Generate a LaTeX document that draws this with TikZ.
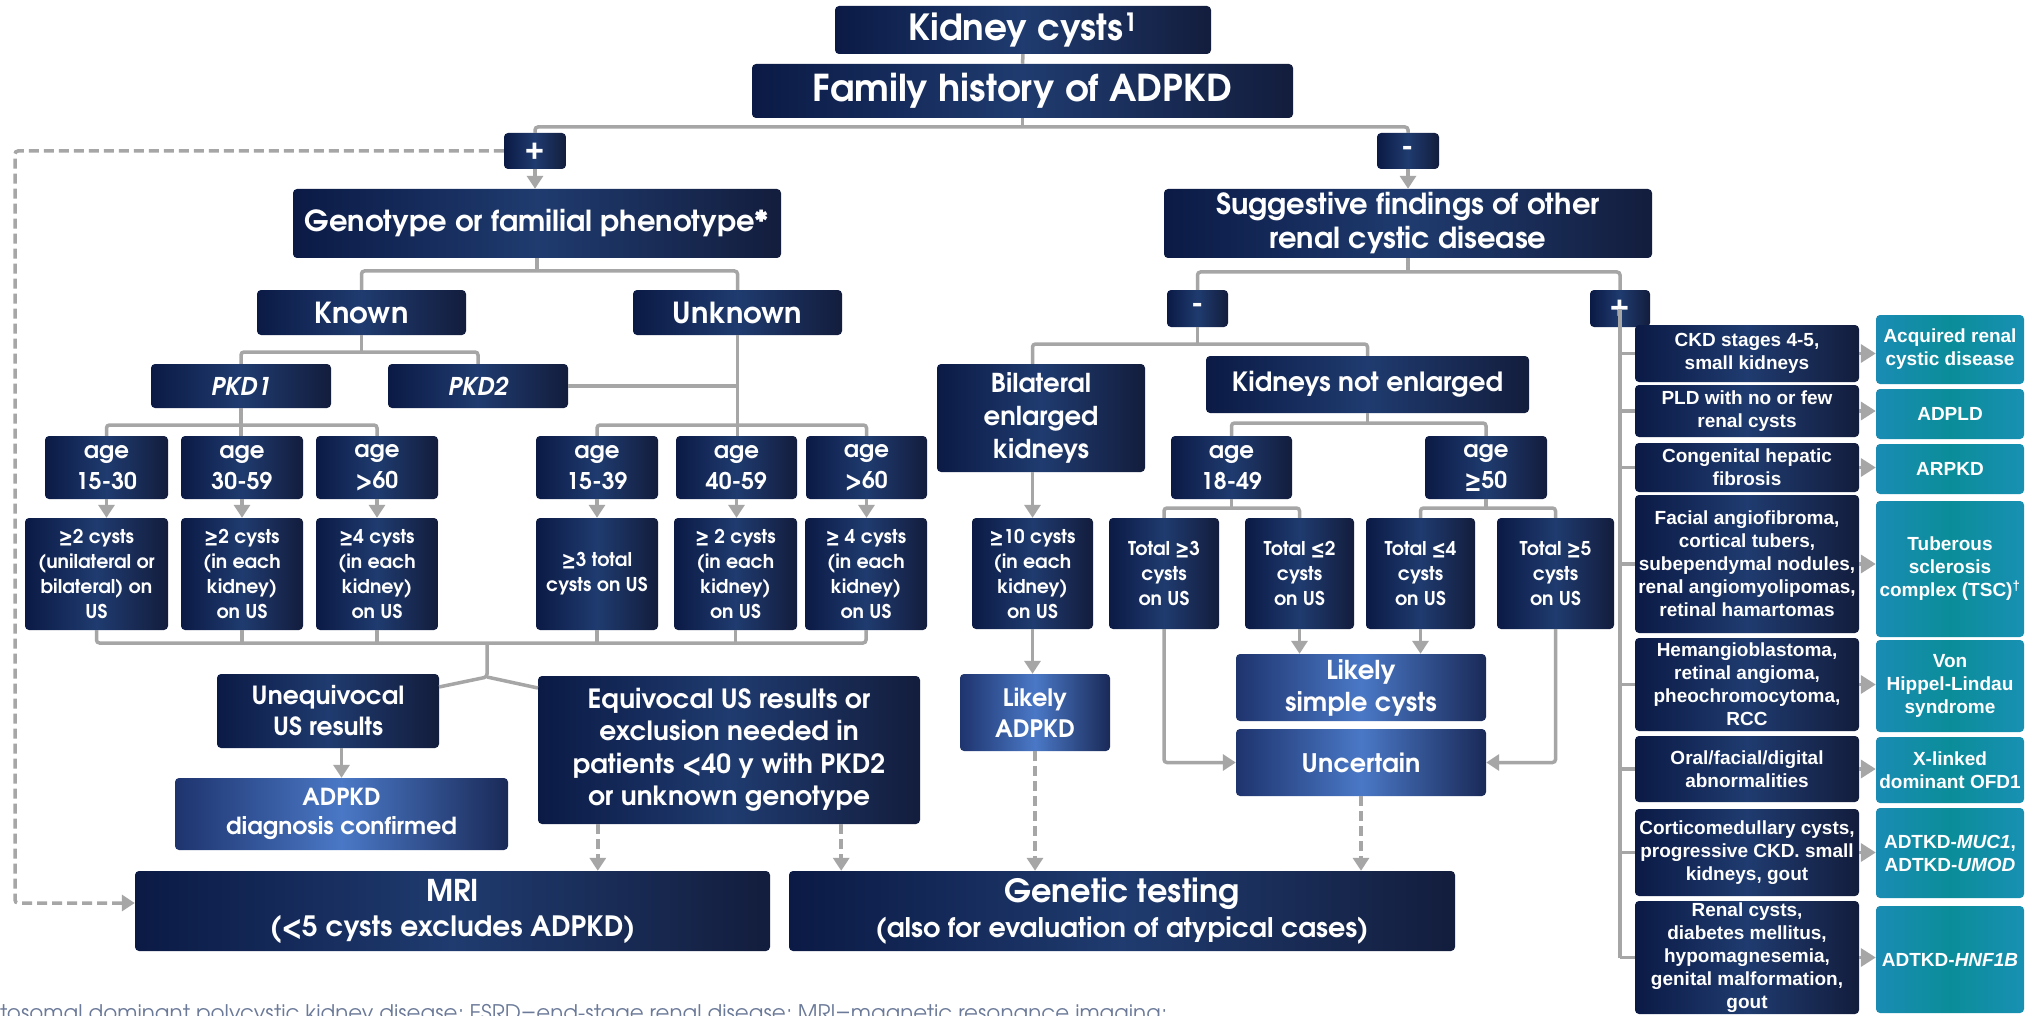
\documentclass[tikz,border=0pt]{standalone}
\usepackage{fontspec}
\setmainfont{Liberation Sans}
\newfontfamily\adv{texgyreadventor}[Extension=.otf, UprightFont=*-regular, BoldFont=*-bold, ItalicFont=*-italic, BoldItalicFont=*-bolditalic]
\newfontfamily\ari{Liberation Sans}
\usetikzlibrary{arrows.meta,calc}
\definecolor{nv1}{HTML}{0B1A45}
\definecolor{nv2}{HTML}{1F3B6F}
\definecolor{nv3}{HTML}{131D3D}
\definecolor{lb1}{HTML}{1E346E}
\definecolor{lb2}{HTML}{4A78C6}
\definecolor{lb3}{HTML}{1A2A58}
\definecolor{tl1}{HTML}{1A8CB4}
\definecolor{tl2}{HTML}{0B8D99}
\definecolor{tl3}{HTML}{1890B3}
\definecolor{lg}{HTML}{A6A6A6}
\definecolor{ft}{HTML}{6B7A99}
\newcommand\BX[7]{\node[#6, minimum width={(#4-#2)*1pt}, minimum height={(#5-#3)*1pt}] (#1) at ({(#2+#4)/2},{(#3+#5)/2}) {#7};}
\newcommand\fs[2]{\fontsize{#1}{#2}\selectfont}
\begin{document}
\begin{tikzpicture}[x=1pt,y=-1pt,
  nb/.style={rectangle, rounded corners=4pt, inner sep=0pt, align=center, text=white, left color=nv1, right color=nv3, middle color=nv2},
  lb/.style={rectangle, rounded corners=4pt, inner sep=0pt, align=center, text=white, left color=lb1, right color=lb3, middle color=lb2},
  tb/.style={rectangle, rounded corners=4pt, inner sep=0pt, align=center, text=white, left color=tl1, right color=tl3, middle color=tl2},
  fA/.style={font=\adv\bfseries\fs{36}{40}},
  fB/.style={font=\adv\bfseries\fs{29}{34}},
  fC/.style={font=\adv\bfseries\fs{23}{31}},
  fD/.style={font=\adv\bfseries\fs{19}{25}},
  fR/.style={font=\ari\bfseries\fs{19}{23}},
  conn/.style={draw=lg, line width=3.5pt, rounded corners=3pt},
  arr/.style={conn, -{Triangle[width=16pt,length=13pt]}},
  darr/.style={draw=lg, line width=3.5pt, dash pattern=on 10pt off 5pt, rounded corners=3pt, -{Triangle[width=16pt,length=13pt]}},
  rarr/.style={draw=lg, line width=3.5pt, -{Triangle[width=18pt,length=15pt]}}]
\fill[white] (0,0) rectangle (2031,1016);
\useasboundingbox (0,0) rectangle (2031,1016);
% top
\BX{kc}{835}{6}{1211}{54}{nb,fA}{Kidney cysts\textsuperscript{1}}
\BX{fh}{752}{64}{1293}{118}{nb,fA,font=\adv\bfseries\fs{37}{40}}{Family history of ADPKD}
\BX{plus}{504}{133}{566}{169}{nb,fB}{+}
\BX{minus}{1377}{133}{1439}{169}{nb,fB}{-}
\BX{geno}{293}{189}{781}{258}{nb,fB}{Genotype or familial phenotype*}
\BX{sugg}{1164}{189}{1652}{258}{nb,fB}{Suggestive findings of other\\renal cystic disease}
% left branch
\BX{known}{257}{290}{466}{335}{nb,fB}{Known}
\BX{unknown}{633}{290}{842}{335}{nb,fB}{Unknown}
\BX{pkd1}{151}{364}{331}{408}{nb,fB,font=\adv\bfseries\fs{24.5}{28}}{\itshape PKD1}
\BX{pkd2}{388}{364}{568}{408}{nb,fB,font=\adv\bfseries\fs{24.5}{28}}{\itshape PKD2}
\BX{a1}{45}{436}{168}{499}{nb,fC}{age\\15-30}
\BX{a2}{181}{436}{303}{499}{nb,fC}{age\\30-59}
\BX{a3}{316}{436}{438}{499}{nb,fC}{age\\>60}
\BX{a4}{536}{436}{658}{499}{nb,fC}{age\\15-39}
\BX{a5}{676}{436}{797}{499}{nb,fC}{age\\40-59}
\BX{a6}{806}{436}{927}{499}{nb,fC}{age\\>60}
\BX{c1}{25}{518}{168}{630}{nb,fD}{≥2 cysts\\(unilateral or\\bilateral) on\\US}
\BX{c2}{181}{518}{303}{630}{nb,fD}{≥2 cysts\\(in each\\kidney)\\on US}
\BX{c3}{316}{518}{438}{630}{nb,fD}{≥4 cysts\\(in each\\kidney)\\on US}
\BX{c4}{536}{518}{658}{630}{nb,fD}{≥3 total\\cysts on US}
\BX{c5}{674}{518}{797}{630}{nb,fD}{≥ 2 cysts\\(in each\\kidney)\\on US}
\BX{c6}{805}{518}{927}{630}{nb,fD}{≥ 4 cysts\\(in each\\kidney)\\on US}
\BX{uneq}{217}{674}{439}{748}{nb,font=\adv\bfseries\fs{25}{31}}{Unequivocal\\US results}
\BX{conf}{175}{778}{508}{850}{lb,font=\adv\bfseries\fs{23.5}{29}}{ADPKD\\diagnosis confirmed}
\BX{equiv}{538}{676}{920}{824}{nb,font=\adv\bfseries\fs{26.5}{32.5}}{Equivocal US results or\\exclusion needed in\\patients <40 y with PKD2\\or unknown genotype}
\BX{mri}{135}{871}{770}{951}{nb,font=\adv\bfseries\fs{28}{35}}{{\fs{30}{35}MRI}\\(<5 cysts excludes ADPKD)}
\BX{gen}{789}{871}{1455}{951}{nb,font=\adv\bfseries\fs{27}{35}}{{\fs{32}{35}Genetic testing}\\(also for evaluation of atypical cases)}
% middle branch
\BX{sminus}{1167}{290}{1228}{327}{nb,fB}{-}
\BX{splus}{1590}{290}{1650}{327}{nb,fB}{+}
\BX{bil}{937}{364}{1145}{472}{nb,font=\adv\bfseries\fs{26}{33}}{Bilateral\\enlarged\\kidneys}
\BX{kne}{1206}{356}{1529}{413}{nb,font=\adv\bfseries\fs{26.5}{32}}{Kidneys not enlarged}
\BX{c10}{972}{518}{1093}{629}{nb,fD}{≥10 cysts\\(in each\\kidney)\\on US}
\BX{lad}{960}{674}{1110}{751}{lb,font=\adv\bfseries\fs{24}{31}}{Likely\\ADPKD}
\BX{a7}{1171}{436}{1292}{499}{nb,fC}{age\\18-49}
\BX{a8}{1425}{436}{1547}{499}{nb,fC}{age\\≥50}
\BX{t3}{1109}{518}{1219}{629}{nb,fD}{Total ≥3\\cysts\\on US}
\BX{t2}{1245}{518}{1354}{629}{nb,fD}{Total ≤2\\cysts\\on US}
\BX{t4}{1366}{518}{1475}{629}{nb,fD}{Total ≤4\\cysts\\on US}
\BX{t5}{1497}{518}{1614}{629}{nb,fD}{Total ≥5\\cysts\\on US}
\BX{lsc}{1236}{654}{1486}{721}{lb,font=\adv\bfseries\fs{26}{32}}{Likely\\simple cysts}
\BX{unc}{1236}{729}{1486}{796}{lb,font=\adv\bfseries\fs{25.5}{31}}{Uncertain}
% right column
\BX{r1}{1635}{325}{1859}{382}{nb,fR}{CKD stages 4-5,\\small kidneys}
\BX{r2}{1635}{385}{1859}{437}{nb,fR}{PLD with no or few\\renal cysts}
\BX{r3}{1635}{443}{1859}{492}{nb,fR}{Congenital hepatic\\fibrosis}
\BX{r4}{1635}{495}{1859}{633}{nb,fR}{Facial angiofibroma,\\cortical tubers,\\subependymal nodules,\\renal angiomyolipomas,\\retinal hamartomas}
\BX{r5}{1635}{638}{1859}{731}{nb,fR}{Hemangioblastoma,\\retinal angioma,\\pheochromocytoma,\\RCC}
\BX{r6}{1635}{736}{1859}{802}{nb,fR}{Oral/facial/digital\\abnormalities}
\BX{r7}{1635}{809}{1859}{896}{nb,fR}{Corticomedullary cysts,\\progressive CKD. small\\kidneys, gout}
\BX{r8}{1635}{901}{1859}{1014}{nb,fR}{Renal cysts,\\diabetes mellitus,\\hypomagnesemia,\\genital malformation,\\gout}
\BX{d1}{1876}{315}{2024}{384}{tb,fR}{Acquired renal\\cystic disease}
\BX{d2}{1876}{389}{2024}{439}{tb,fR}{ADPLD}
\BX{d3}{1876}{444}{2024}{494}{tb,fR}{ARPKD}
\BX{d4}{1876}{501}{2024}{637}{tb,fR}{Tuberous\\sclerosis\\complex (TSC)\textsuperscript{†}}
\BX{d5}{1876}{640}{2024}{732}{tb,fR}{Von\\Hippel-Lindau\\syndrome}
\BX{d6}{1876}{737}{2024}{803}{tb,fR}{X-linked\\dominant OFD1}
\BX{d7}{1876}{808}{2024}{898}{tb,fR}{ADTKD-\textit{MUC1},\\ADTKD-\textit{UMOD}}
\BX{d8}{1876}{906}{2024}{1013}{tb,fR}{ADTKD-\textit{HNF1B}}
% footer
\node[anchor=base west, inner sep=0pt, text=ft, font=\adv\fs{21.5}{26}] (foot) at (0,1020) {tosomal dominant polycystic kidney disease; ESRD=end-stage renal disease; MRI=magnetic resonance imaging;};
% ---- connectors ----
\draw[conn] (kc.south) -- (fh.north);
\coordinate (j1) at (fh.south |- 0,127);
\draw[conn] (fh.south) -- (j1);
\draw[conn] (plus.north) |- (j1) -| (minus.north);
\draw[arr] (plus.south) -- (plus.south |- geno.north);
\draw[arr] (minus.south) -- (minus.south |- sugg.north);
\coordinate (dl) at (15,903);
\draw[darr] (plus.west) -| (dl) -- (mri.west |- dl);
\coordinate (j2) at (geno.south |- 0,271);
\draw[conn] (geno.south) -- (j2);
\draw[conn] (known.north) |- (j2) -| (unknown.north);
\coordinate (j3) at (known.south |- 0,352);
\draw[conn] (known.south) -- (j3);
\draw[conn] (pkd1.north) |- (j3) -| (pkd2.north);
\draw[conn] (unknown.south) -- (unknown.south |- a5.north);
\draw[conn] (pkd2.east) -- (unknown.south |- pkd2.east);
\coordinate (j3b) at (unknown.south |- 0,425);
\draw[conn] (a4.north) |- (j3b) -| (a6.north);
\draw[conn] (pkd1.south) -- (pkd1.south |- a2.north);
\coordinate (j3c) at (pkd1.south |- 0,425);
\draw[conn] (a1.north) |- (j3c) -| (a3.north);
\foreach \i in {1,...,6} {\draw[arr] (a\i.south) -- (a\i.south |- c\i.north);}
\coordinate (j4) at (487,643);
\draw[conn] (c1.south) |- (j4) -| (c6.south);
\foreach \i in {2,...,5} {\draw[conn] (c\i.south) -- (c\i.south |- j4);}
\coordinate (fork) at (487,677);
\coordinate (fl) at (439,687);
\coordinate (fr) at (538,688);
\draw[conn] (j4) -- (fork) -- (fl);
\draw[conn] (fork) -- (fr);
\draw[arr] (conf.north |- uneq.south) -- (conf.north);
\coordinate (e1) at ($(equiv.south west)+(60,0)$);
\coordinate (e2) at ($(equiv.south east)+(-79,0)$);
\draw[darr] (e1) -- (e1 |- mri.north);
\draw[darr] (e2) -- (e2 |- gen.north);
\coordinate (j5) at (sugg.south |- 0,272);
\draw[conn] (sugg.south) -- (j5);
\draw[conn] (sminus.north) |- (j5) -| (splus.north);
\coordinate (j6) at (sminus.south |- 0,344);
\draw[conn] (sminus.south) -- (j6);
\coordinate (bt) at (c10.north |- bil.north);
\draw[conn] (bt) |- (j6) -| (kne.north);
\draw[arr] (c10.north |- bil.south) -- (c10.north);
\draw[arr] (c10.south) -- (c10.south |- lad.north);
\draw[darr] (lad.south) -- (lad.south |- gen.north);
\coordinate (j7) at (kne.south |- 0,423);
\draw[conn] (kne.south) -- (j7);
\draw[conn] (a7.north) |- (j7) -| (a8.north);
\coordinate (j8) at (a7.south |- 0,508);
\draw[conn] (a7.south) -- (j8);
\draw[conn] (t3.north) |- (j8) -| (t2.north);
\coordinate (j9) at (a8.south |- 0,508);
\draw[conn] (a8.south) -- (j9);
\draw[conn] (t4.north) |- (j9) -| (t5.north);
\draw[arr] (t3.south) |- (unc.west);
\draw[arr] (t5.south) |- (unc.east);
\draw[arr] (t2.south) -- (t2.south |- lsc.north);
\draw[arr] (t4.south) -- (t4.south |- lsc.north);
\draw[darr] (unc.south) -- (unc.south |- gen.north);
\draw[conn] (splus.center) -- (splus.center |- r8.west);
\foreach \i in {1,...,8} {
  \draw[conn] (splus.center |- r\i.west) -- (r\i.west);
  \draw[rarr] (r\i.east) -- (d\i.west |- r\i.east);
}
\end{tikzpicture}
\end{document}
